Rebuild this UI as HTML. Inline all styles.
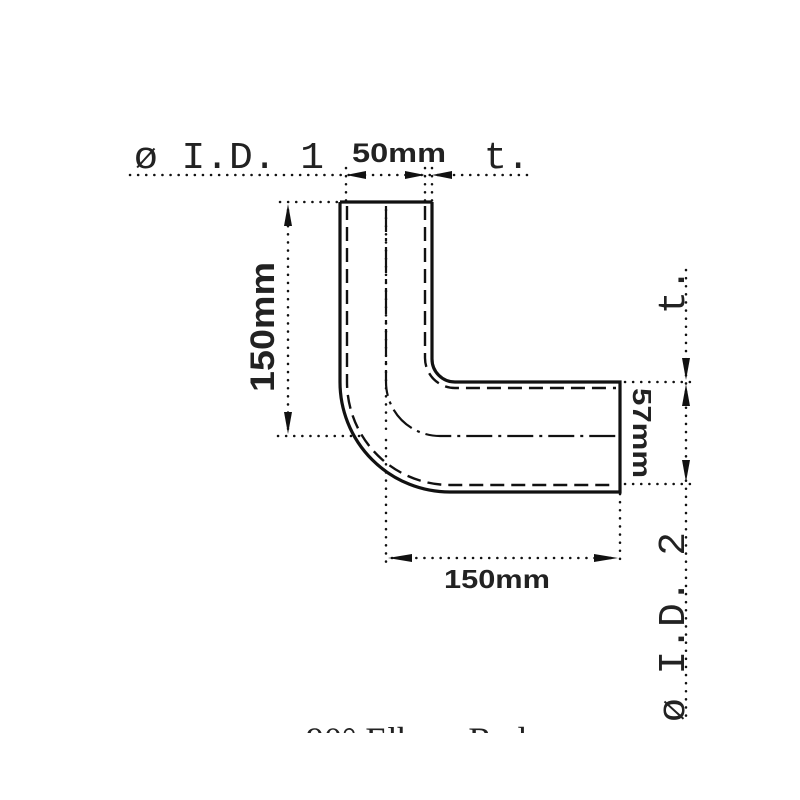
<!DOCTYPE html>
<html><head><meta charset="utf-8"><style>
html,body{margin:0;padding:0;background:#fff;width:800px;height:800px;overflow:hidden}
</style></head><body>
<svg width="800" height="800" viewBox="0 0 800 800" xmlns="http://www.w3.org/2000/svg">
<defs>
<clipPath id="c"><rect x="0" y="0" width="800" height="733"/></clipPath>
</defs>
<g fill="none" stroke="#111">
<g stroke-width="2.5" stroke-dasharray="0.1 8" stroke-linecap="round">
<line x1="130" y1="175" x2="528" y2="175"/>
<line x1="346" y1="168" x2="346" y2="202"/>
<line x1="425" y1="168" x2="425" y2="202"/>
<line x1="432" y1="168" x2="432" y2="202"/>
<line x1="280" y1="202" x2="338" y2="202"/>
<line x1="288" y1="210" x2="288" y2="430"/>
<line x1="278" y1="436" x2="360" y2="436"/>
<line x1="386" y1="440" x2="386" y2="568"/>
<line x1="620" y1="494" x2="620" y2="566"/>
<line x1="392" y1="558" x2="614" y2="558"/>
<line x1="686" y1="270" x2="686" y2="722"/>
<line x1="625" y1="382" x2="694" y2="382"/>
<line x1="625" y1="484" x2="694" y2="484"/>
<line x1="386" y1="210" x2="386" y2="436"/>
</g>
<g stroke-width="3.2">
<path d="M340 202 H432"/>
<path d="M340 202 V382 A110 110 0 0 0 450 492 H620 V382 H455 A23 23 0 0 1 432 359 V202"/>
</g>
<g stroke-width="2.4" stroke-dasharray="14 7">
<path d="M347 206 V382 A103 103 0 0 0 450 485 H616"/>
<path d="M425 206 V358 A30 30 0 0 0 455 388 H616"/>
</g>
<path d="M386 206 V382 A54 54 0 0 0 440 436 H616" stroke-width="2.2" stroke-dasharray="26 6 3 6"/>
</g>
<g fill="#111">
<polygon points="346,175 366,171 366,179"/>
<polygon points="425,175 405,171 405,179"/>
<polygon points="432,175 452,171 452,179"/>
<polygon points="288,204 284,226 292,226"/>
<polygon points="288,434 284,412 292,412"/>
<polygon points="388,558 412,554 412,562"/>
<polygon points="618,558 594,554 594,562"/>
<polygon points="686,380 682,358 690,358"/>
<polygon points="686,384 682,406 690,406"/>
<polygon points="686,482 682,460 690,460"/>
</g>
<g font-family="'Liberation Mono', monospace" fill="#222">
<text x="134" y="168" font-size="38" textLength="190" lengthAdjust="spacingAndGlyphs">ø I.D. 1</text>
<text x="484" y="168" font-size="38">t.</text>
<text transform="translate(684,314) rotate(-90)" font-size="38">t.</text>
<text transform="translate(684,722) rotate(-90)" font-size="38" textLength="190" lengthAdjust="spacingAndGlyphs">ø I.D. 2</text>
</g>
<g font-family="'Liberation Sans', sans-serif" font-weight="bold" fill="#222">
<text x="352" y="162" font-size="27" textLength="94" lengthAdjust="spacingAndGlyphs">50mm</text>
<text transform="translate(274,392) rotate(-90)" font-size="34" textLength="130" lengthAdjust="spacingAndGlyphs">150mm</text>
<text x="444" y="588" font-size="26" textLength="106" lengthAdjust="spacingAndGlyphs">150mm</text>
<text transform="translate(633,388) rotate(90)" font-size="26" textLength="90" lengthAdjust="spacingAndGlyphs">57mm</text>
</g>
<g clip-path="url(#c)">
<text x="306" y="752" font-family="'Liberation Serif', serif" font-size="36" fill="#222">90° Elbow Reducer</text>
</g>
</svg>
</body></html>
